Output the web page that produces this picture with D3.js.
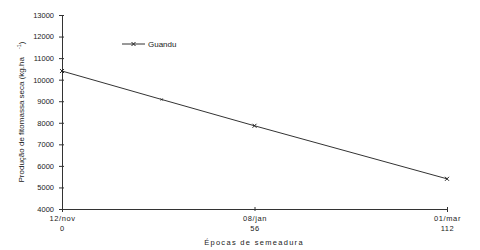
<!DOCTYPE html>
<html>
<head>
<meta charset="utf-8">
<script src="https://cdn.jsdelivr.net/npm/d3@7"></script>
<style>
  body { margin: 0; background: #fff; }
  text { font-family: "Liberation Sans", Arial, sans-serif; fill: #222; }
</style>
</head>
<body>
<div id="chart"></div>
<script>
// data
const days = [0, 29, 56, 112]
const guandu = [10400, 9080, 7860, 5400]
const xTicks = [0, 56, 112]
const xDates = ['12/nov', '08/jan', '01/mar']
const yTicks = [4000, 5000, 6000, 7000, 8000, 9000, 10000, 11000, 12000, 13000]

const width = 480,
  height = 250

let svg = d3.select('#chart')
  .append('svg')
  .attr('width', width)
  .attr('height', height)

const x = d3.scaleLinear().domain([0, 112]).range([62, 447])
const y = d3.scaleLinear().domain([4000, 13000]).range([209, 15])

// y axis
const yAxis = d3.axisLeft(y)
  .tickValues(yTicks)
  .tickSize(3)
  .tickPadding(5)
  .tickFormat(d3.format('d'))

let gy = svg.append('g')
  .attr('transform', `translate(${x(0)},0)`)
  .call(yAxis)
gy.select('.domain').attr('stroke', '#333')
gy.selectAll('.tick line').attr('stroke', '#333').attr('x2', 2).attr('x1', -3)
gy.selectAll('.tick text')
  .attr('font-size', 7.5)
  .attr('font-family', '"Liberation Sans", Arial, sans-serif')
  .attr('fill', '#222')

// x axis
const xAxis = d3.axisBottom(x)
  .tickValues(xTicks)
  .tickSize(3)
  .tickFormat('')

let gx = svg.append('g')
  .attr('transform', `translate(0,${y(4000)})`)
  .call(xAxis)
gx.select('.domain').attr('stroke', '#333')
gx.selectAll('.tick line').attr('stroke', '#333').attr('y1', -2).attr('y2', 2)

gx.selectAll('.tick').each(function (d, i) {
  let t = d3.select(this)
  t.append('text')
    .attr('y', 12)
    .attr('text-anchor', 'middle')
    .attr('font-size', 7.5)
    .attr('letter-spacing', 0.6)
    .text(xDates[i])
  t.append('text')
    .attr('y', 22)
    .attr('text-anchor', 'middle')
    .attr('font-size', 7.5)
    .attr('letter-spacing', 0.6)
    .text(d)
})

// axis titles
svg.append('text')
  .attr('x', 254)
  .attr('y', 245)
  .attr('text-anchor', 'middle')
  .attr('font-size', 7.5)
  .attr('letter-spacing', 1.3)
  .text('Épocas de semeadura')

let yTitle = svg.append('text')
  .attr('transform', `translate(24,112) rotate(-90)`)
  .attr('text-anchor', 'middle')
  .attr('font-size', 8)
yTitle.append('tspan').text('Produção de fitomassa seca (kg.ha')
yTitle.append('tspan').attr('dy', -3).attr('dx', 8).attr('font-size', 5.5).text('-1')
yTitle.append('tspan').attr('dy', 3).text(')')

// line
const line = d3.line()
  .x((d, i) => x(days[i]))
  .y(d => y(d))

svg.append('path')
  .datum(guandu)
  .attr('fill', 'none')
  .attr('stroke', '#333')
  .attr('stroke-width', 1)
  .attr('d', line)

const cross = (g, cx, cy, r) => {
  g.append('path')
    .attr('d', `M${cx - r},${cy - r}L${cx + r},${cy + r}M${cx - r},${cy + r}L${cx + r},${cy - r}`)
    .attr('stroke', '#222')
    .attr('stroke-width', 1)
}

// the 29-day marker is barely visible in the original
let marks = svg.append('g')
guandu.forEach((v, i) => cross(marks, x(days[i]), y(v), i === 1 ? 1 : 2))

// legend
let leg = svg.append('g')
leg.append('line')
  .attr('x1', 122).attr('x2', 145)
  .attr('y1', 44).attr('y2', 44)
  .attr('stroke', '#333')
cross(leg, 133.5, 44, 2)
leg.append('text')
  .attr('x', 148)
  .attr('y', 46.5)
  .attr('font-size', 8)
  .text('Guandu')
</script>
</body>
</html>
